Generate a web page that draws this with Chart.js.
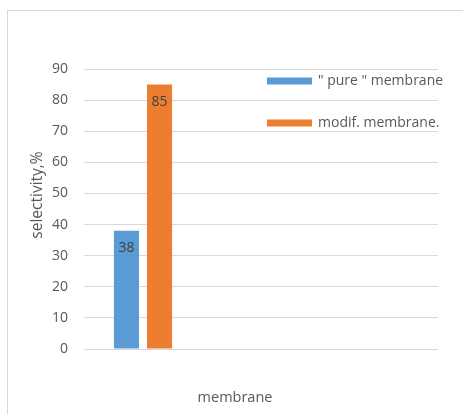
<!DOCTYPE html>
<html>
<head>
<meta charset="utf-8">
<script src="https://cdn.jsdelivr.net/npm/chart.js@4/dist/chart.umd.min.js"></script>
<style>
    html, body { margin: 0; padding: 0; background: #fff; overflow: hidden; }
    #frame {
        position: absolute; left: 7px; top: 10px; width: 470px; height: 420px;
        border: 1px solid #d9d9d9; box-sizing: border-box;
    }
    #box { position: absolute; left: 7px; top: 10px; width: 456px; height: 404px; }
</style>
</head>
<body>
<div id="frame"></div>
<div id="box"><canvas id="myChart"></canvas></div>
<script>
const categories = ['membrane', '', ''];
const seriesNames = ['" pure " membrane', 'modif. membrane.'];
const pureValues = [38, null, null];
const modifValues = [85, null, null];
const seriesColors = ['#5b9bd5', '#ed7d31'];
const yTicks = [0, 10, 20, 30, 40, 50, 60, 70, 80, 90];
const yTitle = 'selectivity,%';

const FONT = '"Open Sans", "Noto Sans", sans-serif';
const TEXT_GREY = '#595959';

// value labels inside the top of each bar
const barLabels = {
    id: 'barLabels',
    afterDatasetsDraw(chart) {
        const ctx = chart.ctx;
        ctx.save();
        ctx.font = '14px ' + FONT;
        ctx.fillStyle = '#404040';
        ctx.textAlign = 'center';
        ctx.textBaseline = 'middle';
        chart.data.datasets.forEach((ds, i) => {
            chart.getDatasetMeta(i).data.forEach((bar, j) => {
                if (ds.data[j] == null) return;
                ctx.fillText(ds.data[j], bar.x, bar.y + 17);
            });
        });
        ctx.restore();
    }
};

// legend drawn inside the plot, to the right
const innerLegend = {
    id: 'innerLegend',
    afterDraw(chart) {
        const ctx = chart.ctx;
        const area = chart.chartArea;
        ctx.save();
        ctx.font = '14px ' + FONT;
        ctx.textBaseline = 'middle';
        chart.data.datasets.forEach((ds, i) => {
            const x = area.left + 183;
            const y = area.top + 12 + i * 42;
            ctx.fillStyle = ds.backgroundColor;
            ctx.fillRect(x, y - 3.5, 45, 7);
            ctx.fillStyle = TEXT_GREY;
            ctx.fillText(ds.label, x + 51, y);
        });
        ctx.restore();
    }
};

// axis titles: x centred on the whole chart, y a bit above the plot middle (as in the original)
const axisTitles = {
    id: 'axisTitles',
    afterDraw(chart) {
        const ctx = chart.ctx;
        const area = chart.chartArea;
        ctx.save();
        ctx.fillStyle = TEXT_GREY;
        ctx.textAlign = 'center';
        ctx.textBaseline = 'middle';
        ctx.font = '14.5px ' + FONT;
        ctx.fillText(categories[0], chart.width / 2, area.bottom + 49);

        ctx.font = '15.5px ' + FONT;
        ctx.translate(31, (area.top + area.bottom) / 2 - 14);
        ctx.rotate(-Math.PI / 2);
        ctx.fillText(yTitle, 0, 0);
        ctx.restore();
    }
};

const ctx = document.getElementById('myChart').getContext('2d');
new Chart(ctx, {
    type: 'bar',
    data: {
        labels: categories,
        datasets: [
            {
                label: seriesNames[0],
                data: pureValues,
                backgroundColor: seriesColors[0],
                categoryPercentage: 0.56,
                barPercentage: 0.76
            },
            {
                label: seriesNames[1],
                data: modifValues,
                backgroundColor: seriesColors[1],
                categoryPercentage: 0.56,
                barPercentage: 0.76
            }
        ]
    },
    options: {
        responsive: true,
        maintainAspectRatio: false,
        animation: false,
        layout: { padding: { left: 17, right: 25, top: 59, bottom: 0 } },
        plugins: {
            legend: { display: false },
            tooltip: { enabled: false }
        },
        scales: {
            x: {
                grid: { display: false, drawTicks: false },
                border: { display: false },
                ticks: { display: false },
                afterFit: s => { s.height = 65; }
            },
            y: {
                min: 0,
                max: 90,
                afterBuildTicks: s => { s.ticks = yTicks.map(v => ({ value: v })); },
                grid: { color: '#d9d9d9', drawTicks: false },
                border: { display: false },
                ticks: {
                    padding: 16,
                    color: TEXT_GREY,
                    font: { family: FONT, size: 14 }
                },
                afterFit: s => { s.width = 60; }
            }
        }
    },
    plugins: [barLabels, innerLegend, axisTitles]
});
</script>
</body>
</html>
